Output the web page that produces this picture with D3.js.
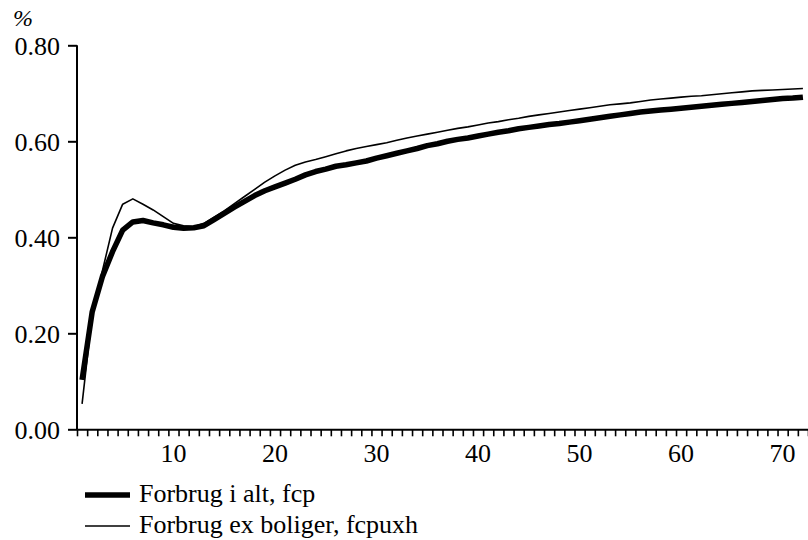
<!DOCTYPE html>
<html>
<head>
<meta charset="utf-8">
<script src="https://cdn.jsdelivr.net/npm/d3@7"></script>
</head>
<body style="margin:0">
<svg id="chart" width="808" height="540"></svg>
<script>
// Periods 1..72 on the horizontal axis
const periods = d3.range(1, 73);

// Forbrug i alt, fcp (%)
const fcp = [
  0.103, 0.245, 0.318, 0.370, 0.415, 0.432, 0.435, 0.430, 0.426, 0.421,
  0.419, 0.420, 0.424, 0.437, 0.450, 0.463, 0.475, 0.487, 0.497, 0.505,
  0.513, 0.521, 0.530, 0.537, 0.542, 0.548, 0.551, 0.555, 0.559, 0.565,
  0.570, 0.575, 0.580, 0.585, 0.591, 0.595, 0.600, 0.604, 0.607, 0.611,
  0.615, 0.619, 0.622, 0.626, 0.629, 0.632, 0.635, 0.637, 0.640, 0.643,
  0.646, 0.649, 0.652, 0.655, 0.658, 0.661, 0.663, 0.665, 0.667, 0.669,
  0.671, 0.673, 0.675, 0.677, 0.679, 0.681, 0.683, 0.685, 0.687, 0.689,
  0.690, 0.692
];

// Forbrug ex boliger, fcpuxh (%)
const fcpuxh = [
  0.053, 0.240, 0.330, 0.419, 0.469, 0.480, 0.469, 0.457, 0.443, 0.429,
  0.424, 0.422, 0.429, 0.442, 0.455, 0.470, 0.485, 0.500, 0.515, 0.528,
  0.540, 0.550, 0.557, 0.562, 0.568, 0.574, 0.580, 0.585, 0.589, 0.593,
  0.597, 0.602, 0.607, 0.611, 0.615, 0.619, 0.623, 0.627, 0.630, 0.634,
  0.638, 0.641, 0.645, 0.648, 0.652, 0.655, 0.658, 0.661, 0.664, 0.667,
  0.670, 0.673, 0.676, 0.678, 0.680, 0.683, 0.686, 0.688, 0.690, 0.692,
  0.694, 0.695, 0.697, 0.699, 0.701, 0.703, 0.705, 0.706, 0.707, 0.708,
  0.709, 0.710
];

const yTicks = [0, 0.2, 0.4, 0.6, 0.8];
const xLabels = [10, 20, 30, 40, 50, 60, 70];
const seriesNames = ["Forbrug i alt, fcp", "Forbrug ex boliger, fcpuxh"];
const unitLabel = "%";

const svg = d3.select("#chart");
const plotLeft = 77, plotRight = 808, plotTop = 45.3, plotBottom = 429.3;

const x = d3.scaleLinear().domain([0.5, 72.5]).range([plotLeft, plotRight]);
const y = d3.scaleLinear().domain([0, 0.8]).range([plotBottom, plotTop]);

// Places a serif text label
function label(size) {
  return svg.append("text").attr("font-size", size).style("font-family", "Liberation Serif");
}

// Series lines
const line = d3.line().x((d, i) => x(periods[i])).y(d => y(d));
svg.append("path").datum(fcpuxh).attr("d", line)
  .attr("fill", "none").attr("stroke", "#000").attr("stroke-width", 1.6)
  .attr("stroke-linejoin", "round");
svg.append("path").datum(fcp).attr("d", line)
  .attr("fill", "none").attr("stroke", "#000").attr("stroke-width", 5.5)
  .attr("stroke-linejoin", "round");

// Y axis: ticks and domain from the axis generator
const gy = svg.append("g").attr("transform", `translate(${plotLeft},0)`)
  .call(d3.axisLeft(y).tickValues(yTicks).tickFormat("").tickSize(9));
gy.select(".domain").attr("d", `M0,${plotTop}V${plotBottom + 0.5}`).attr("stroke-width", 2);
gy.selectAll(".tick line").attr("stroke-width", 2);

// X axis: a tick at every period boundary
const xBoundaries = d3.range(0, 73).map(k => k + 0.5);
const gx = svg.append("g").attr("transform", `translate(0,${plotBottom})`)
  .call(d3.axisBottom(x).tickValues(xBoundaries).tickFormat("").tickSize(7).tickSizeOuter(0));
gx.select(".domain").attr("stroke-width", 2);
gx.selectAll(".tick line").attr("stroke-width", 1.6);

// Tick labels
yTicks.forEach(v => {
  label(26).attr("x", plotLeft - 17).attr("y", y(v) + 10)
    .attr("text-anchor", "end").text(d3.format(".2f")(v));
});
xLabels.forEach(v => {
  label(26).attr("x", x(v)).attr("y", plotBottom + 33)
    .attr("text-anchor", "middle").text(d3.format("d")(v));
});

// Unit label
label(24).attr("x", 13).attr("y", 26).attr("font-style", "italic").text(unitLabel);

// Legend
const legendRows = [
  { name: seriesNames[0], width: 5.5, y: 495 },
  { name: seriesNames[1], width: 1.6, y: 526 }
];
legendRows.forEach(r => {
  svg.append("line").attr("x1", 85).attr("x2", 130).attr("y1", r.y).attr("y2", r.y)
    .attr("stroke", "#000").attr("stroke-width", r.width);
  label(26).attr("x", 139).attr("y", r.y + 7).text(r.name);
});
</script>
</body>
</html>
